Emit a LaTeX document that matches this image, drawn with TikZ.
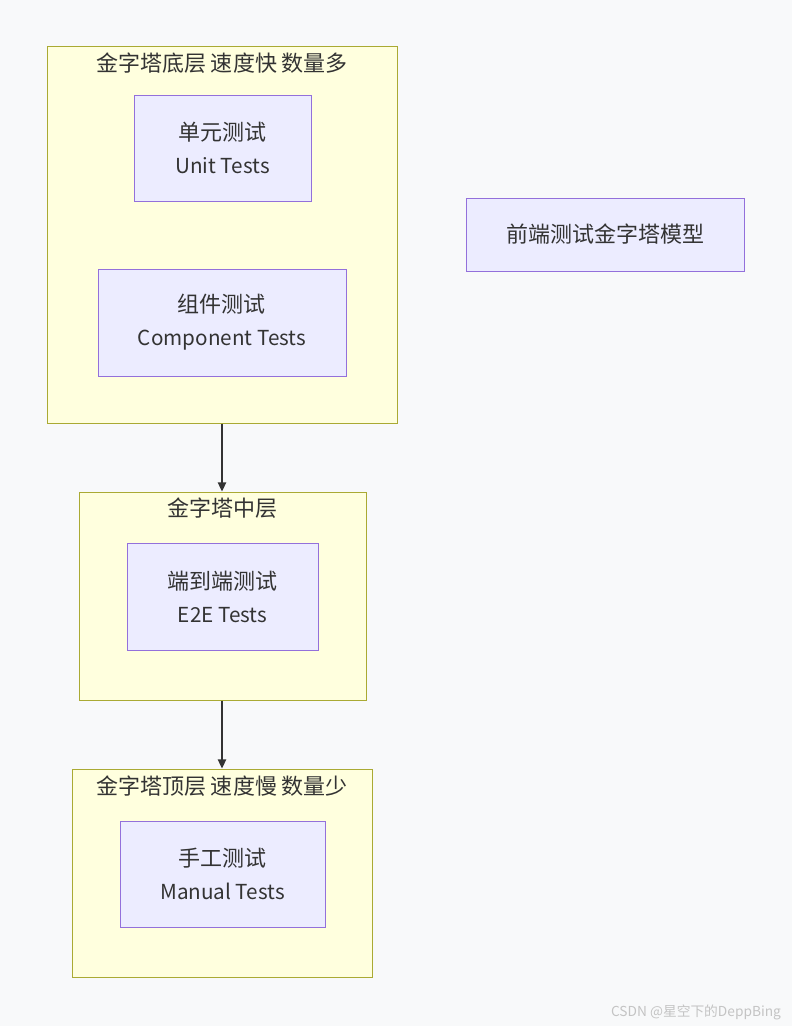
\documentclass[tikz,border=0pt]{standalone}
\usepackage{fontspec}
\setmainfont{Noto Sans CJK SC}
\usetikzlibrary{arrows.meta}
\definecolor{pagebg}{HTML}{F8F9FA}
\definecolor{grpfill}{HTML}{FFFFDE}
\definecolor{grpline}{HTML}{AAAA33}
\definecolor{boxfill}{HTML}{ECECFF}
\definecolor{boxline}{HTML}{9370DB}
\definecolor{textdark}{HTML}{333333}
\definecolor{markgray}{HTML}{C4C4C4}
\newcommand\zhsize{\fontsize{16.5}{24.75}\selectfont}

\begin{document}
\begin{tikzpicture}[x=0.75pt,y=-0.75pt,>=Latex,
 layer/.style={draw=grpline,fill=grpfill,line width=0.75pt,inner sep=0pt},
 title/.style={text=textdark,inner sep=0pt,font=\fontsize{16.5}{18}\selectfont},
 test/.style={draw=boxline,fill=boxfill,line width=0.75pt,align=center,text=textdark,inner sep=0pt,font=\fontsize{15.5}{24.75}\selectfont},
 a/.style={-{Triangle[length=2.4mm,width=2.2mm]},line width=1pt,textdark}]
\fill[pagebg] (0,0) rectangle (792,1026);
\useasboundingbox (0,0) rectangle (792,1026);

% bottom layer
\node[layer,minimum width=262.5pt,minimum height=282.75pt] (g1) at (222,234.5) {};
\node[title] (t1) at (222,63) {金字塔底层 速度快 数量多};
\node[test,minimum width=132.75pt,minimum height=79.5pt] (unit) at (222.5,148) {{\zhsize 单元测试}\\Unit Tests};
\node[test,minimum width=186pt,minimum height=80.25pt] (comp) at (222,322.5) {{\zhsize 组件测试}\\Component Tests};

% middle layer
\node[layer,minimum width=215.25pt,minimum height=156pt] (g2) at (222.5,596) {};
\node[title] (t2) at (222.5,508) {金字塔中层};
\node[test,minimum width=143.25pt,minimum height=80.25pt] (e2e) at (222.5,596.5) {{\zhsize 端到端测试}\\E2E Tests};

% top layer
\node[layer,minimum width=225pt,minimum height=156pt] (g3) at (222,873) {};
\node[title] (t3) at (222,786) {金字塔顶层 速度慢 数量少};
\node[test,minimum width=153.75pt,minimum height=79.5pt] (manual) at (222.5,874) {{\zhsize 手工测试}\\Manual Tests};

\node[test,minimum width=208.5pt,minimum height=54.75pt,font=\zhsize] (model) at (605,234.5) {前端测试金字塔模型};

\draw[a] (g1.south) -- (g1.south |- g2.north);
\draw[a] (g2.south -| g1.south) -- (g1.south |- g3.north);

\node[text=markgray,inner sep=0pt,font=\fontsize{10.3}{12}\selectfont] (mark) at (696,1012) {CSDN @星空下的DeppBing};
\end{tikzpicture}
\end{document}
